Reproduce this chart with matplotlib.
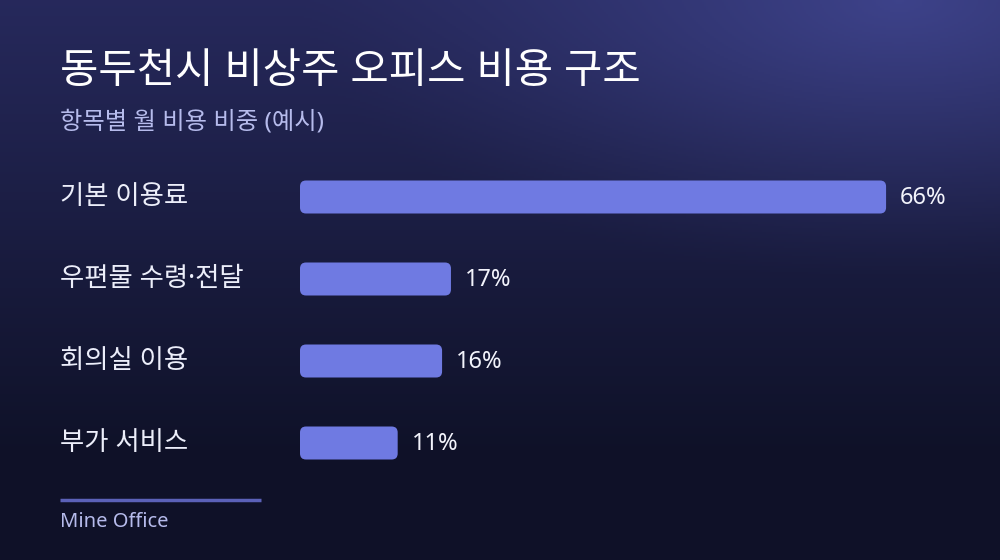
import numpy as np
import matplotlib
matplotlib.use("Agg")
import matplotlib.pyplot as plt
from matplotlib.patches import FancyBboxPatch
from matplotlib.transforms import blended_transform_factory

plt.rcParams["font.family"] = ["Noto Sans", "Noto Sans CJK KR", "DejaVu Sans"]

# data
categories = ["기본 이용료", "우편물 수령·전달", "회의실 이용", "부가 서비스"]
shares = [66, 17, 16, 11]
title = "동두천시 비상주 오피스 비용 구조"
subtitle = "항목별 월 비용 비중 (예시)"
source = "Mine Office"

BAR_COLOR = "#6f7ae2"
W, H = 1000, 560

fig = plt.figure(figsize=(10, 5.6), dpi=100)

# background gradient
bg = fig.add_axes([0, 0, 1, 1])
yy, xx = np.mgrid[0:1:280j, 0:1:500j]
top = np.array([0.15, 0.16, 0.36])
bot = np.array([0.06, 0.07, 0.16])
glow = np.array([0.24, 0.26, 0.54])
t = np.clip(yy * 1.25, 0, 1)[..., None]
img = top * (1 - t) + bot * t
d = np.sqrt(((xx - 0.9) / 0.6) ** 2 + (yy / 0.5) ** 2)
g = np.clip(1 - d, 0, 1)[..., None] ** 1.3
img = img * (1 - g) + glow * g
bg.imshow(img, extent=[0, 1, 0, 1], aspect="auto", origin="upper")
bg.set_xlim(0, 1)
bg.set_ylim(0, 1)
bg.axis("off")

# bar axes
px_per_unit = 8.88
ax_left, ax_width = 300 / W, 660 / W
ax_top, ax_bot = 156, 484
ax = fig.add_axes([ax_left, 1 - ax_bot / H, ax_width, (ax_bot - ax_top) / H])
ax.set_xlim(0, 660 / px_per_unit)
ax.set_ylim(len(categories) - 0.5, -0.5)
ax.axis("off")
ax.patch.set_alpha(0)

bar_h = 33 / 82
rx = 6 / px_per_unit
ry = 6 / 82
bars = ax.barh(range(len(categories)), shares, height=bar_h, color="none")
for b in bars:
    x0, y0 = b.get_x(), b.get_y()
    w, h = b.get_width(), b.get_height()
    ax.add_patch(FancyBboxPatch((x0, y0), w, h,
                                boxstyle=f"round,pad=0,rounding_size={rx}",
                                mutation_aspect=ry / rx,
                                fc=BAR_COLOR, ec="none"))

for i, v in enumerate(shares):
    ax.text(v + 14 / px_per_unit, i + 0.01, f"{v}%", color="#f2f3fb",
            fontsize=17, va="center", ha="left")

trans = blended_transform_factory(fig.transFigure, ax.transData)
for i, c in enumerate(categories):
    ax.text(60 / W, i + 0.0, c, transform=trans, color="#eceefa",
            fontsize=19, va="center", ha="left")

fig.text(60 / W, 1 - 72 / H, title, color="white", fontsize=30,
         va="center", ha="left", fontweight="medium")
fig.text(60 / W, 1 - 123 / H, subtitle, color="#b6bbec", fontsize=17.5,
         va="center", ha="left")

bg.plot([60 / W, 261 / W], [1 - 500 / H, 1 - 500 / H], color="#5b61b8",
        lw=2.5, solid_capstyle="butt")
fig.text(60 / W, 1 - 522 / H, source, color="#b6bbec", fontsize=14.5,
         va="center", ha="left")

fig.savefig("out.png", dpi=100)
